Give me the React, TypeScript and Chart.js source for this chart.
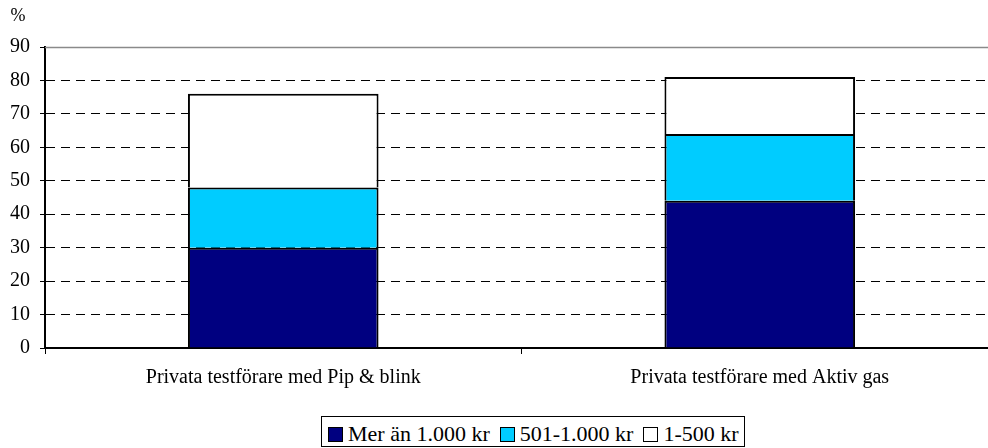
import React, { useEffect, useRef } from "react";
import { Chart, registerables } from "chart.js";

Chart.register(...registerables);

const categories = [
  "Privata testförare med Pip & blink",
  "Privata testförare med Aktiv gas",
];
const merAn1000 = [30, 44];
const kr501to1000 = [18, 20];
const kr1to500 = [28, 17];
const seriesNames = ["Mer än 1.000 kr", "501-1.000 kr", "1-500 kr"];
const seriesColors = ["#000080", "#00CCFF", "#FFFFFF"];
const yMin = 0;
const yMax = 90;
const yStep = 10;
const yUnit = "%";

const FONT = "'Liberation Serif', 'Times New Roman', serif";

export default function App() {
  const ref = useRef<HTMLCanvasElement | null>(null);

  useEffect(() => {
    if (!ref.current) return;
    const extras = {
      id: "extras",
      afterDraw(chart: any) {
        const { ctx, chartArea, scales } = chart;
        const y = scales.y;
        const py = Math.round(y.getPixelForValue(yMax)) + 0.5;
        ctx.save();
        ctx.strokeStyle = "#8a8a8a";
        ctx.lineWidth = 1.5;
        ctx.setLineDash([]);
        ctx.beginPath();
        ctx.moveTo(chartArea.left, py);
        ctx.lineTo(chartArea.right, py);
        ctx.stroke();
        ctx.fillStyle = "#000";
        ctx.font = "18px " + FONT;
        ctx.textAlign = "center";
        ctx.textBaseline = "middle";
        ctx.fillText(yUnit, 18, 16);
        ctx.restore();
      },
    };
    const data = [merAn1000, kr501to1000, kr1to500];
    const chart = new Chart(ref.current, {
      type: "bar",
      data: {
        labels: categories,
        datasets: data.map((d, i) => ({
          label: seriesNames[i],
          data: d,
          backgroundColor: seriesColors[i],
          borderColor: "#000000",
          borderWidth: 2,
          barPercentage: 0.4,
          categoryPercentage: 1.0,
        })),
      },
      options: {
        animation: false,
        responsive: false,
        maintainAspectRatio: false,
        devicePixelRatio: 1,
        layout: { padding: { top: 47, left: 0, right: 2, bottom: 0 } },
        plugins: { legend: { display: false }, tooltip: { enabled: false } },
        scales: {
          x: {
            stacked: true,
            grid: {
              offset: true,
              drawOnChartArea: false,
              drawTicks: true,
              tickLength: 6,
              tickColor: "#000",
              tickWidth: 1,
            },
            border: { display: true, color: "#000", width: 2 },
            ticks: {
              font: { family: FONT, size: 20 },
              color: "#000",
              padding: 12,
              maxRotation: 0,
              autoSkip: false,
            },
            afterFit: (s: any) => {
              s.height = 100;
            },
          },
          y: {
            stacked: true,
            min: yMin,
            max: yMax,
            ticks: {
              stepSize: yStep,
              font: { family: FONT, size: 20 },
              color: "#000",
              padding: 10,
            },
            grid: {
              color: (c: any) =>
                c.tick && (c.tick.value === yMin || c.tick.value === yMax)
                  ? "rgba(0,0,0,0)"
                  : "#000",
              lineWidth: 1,
              tickLength: 5,
              tickColor: "#000",
              tickWidth: 1,
              tickBorderDash: [],
              drawTicks: true,
            },
            border: { display: true, color: "#000", width: 2, dash: [9, 6] },
            afterFit: (s: any) => {
              s.width = 45;
            },
          },
        },
      },
      plugins: [extras],
    } as any);
    return () => chart.destroy();
  }, []);

  const sq = (color: string) => (
    <span
      style={{
        display: "inline-block",
        width: 13,
        height: 13,
        background: color,
        border: "1px solid #000",
        marginRight: 5,
        boxSizing: "content-box",
      }}
    />
  );

  return (
    <div
      style={{
        position: "fixed",
        left: 0,
        top: 0,
        width: 1000,
        height: 448,
        overflow: "hidden",
        background: "#fff",
      }}
    >
      <canvas ref={ref} width={1000} height={448} style={{ display: "block" }} />
      <div
        style={{
          position: "absolute",
          left: 321,
          top: 416,
          border: "1px solid #000",
          padding: "6px 5px 1px 6px",
          display: "flex",
          alignItems: "center",
          fontFamily: FONT,
          fontSize: 22,
          lineHeight: "22px",
          color: "#000",
          whiteSpace: "nowrap",
          background: "#fff",
        }}
      >
        {seriesNames.map((n, i) => (
          <span
            key={n}
            style={{ display: "inline-flex", alignItems: "center", marginRight: i < 2 ? 10 : 0 }}
          >
            {sq(seriesColors[i])}
            <span>{n}</span>
          </span>
        ))}
      </div>
    </div>
  );
}
